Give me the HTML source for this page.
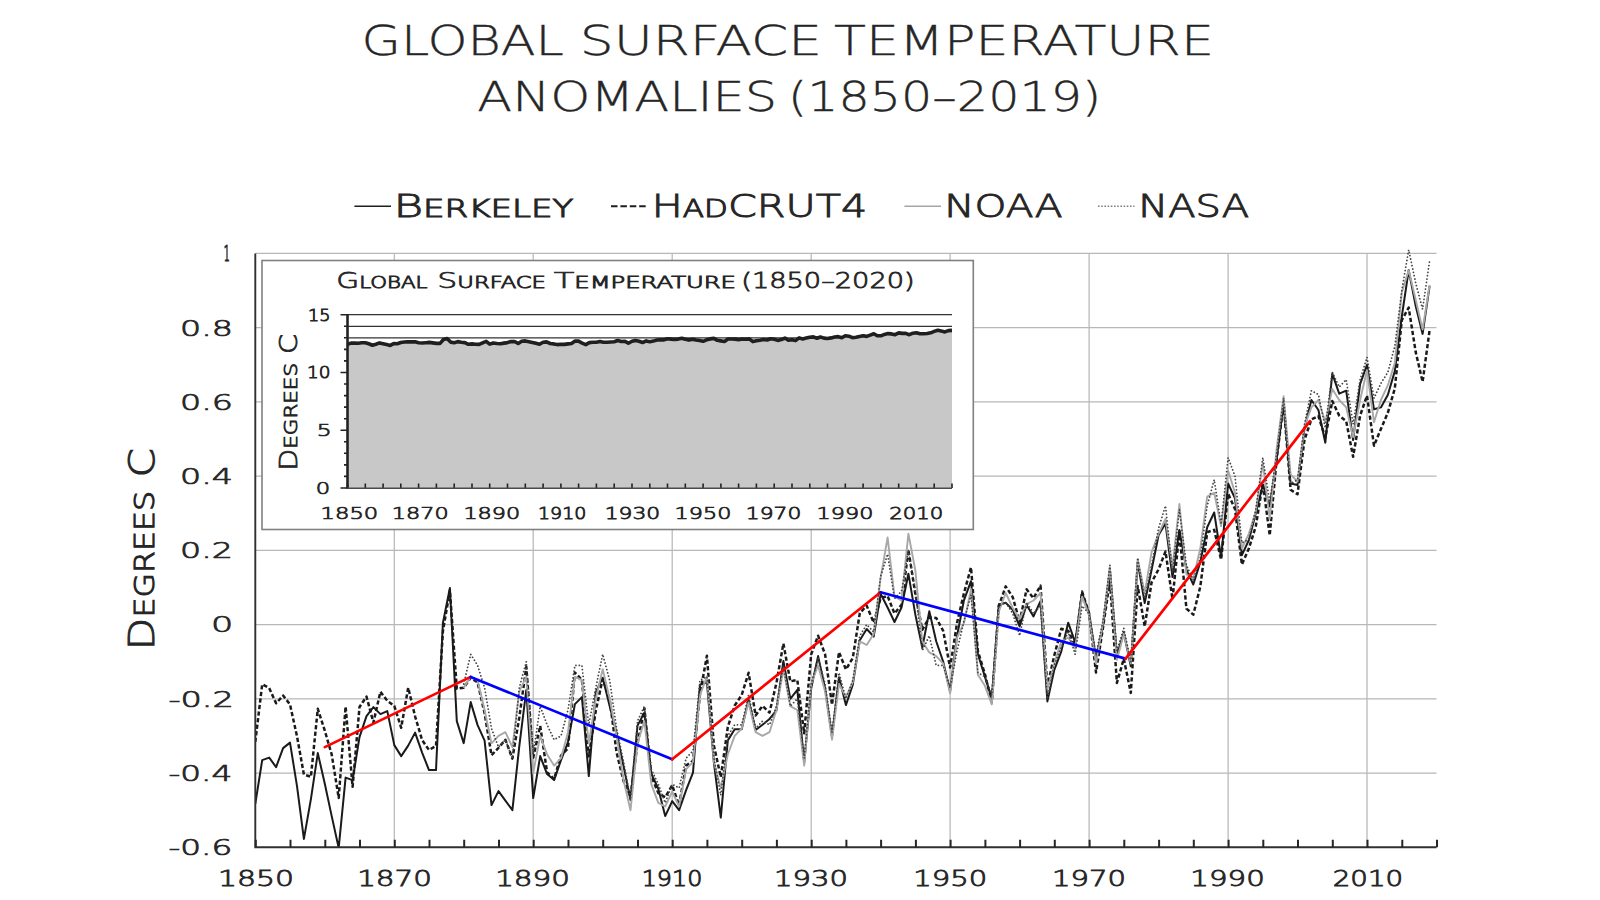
<!DOCTYPE html>
<html lang="en"><head><meta charset="utf-8"><title>Global Surface Temperature Anomalies (1850-2019)</title>
<style>html,body{margin:0;padding:0;background:#fff}body{width:1600px;height:900px;overflow:hidden}svg{display:block}text{font-family:"DejaVu Sans Light","DejaVu Sans","Liberation Sans",sans-serif;font-weight:200;fill:#262626;white-space:pre}</style></head><body>
<svg width="1600" height="900" viewBox="0 0 1600 900">
<rect width="1600" height="900" fill="#fff"/>
<path d="M255.3 253.4H1436.5M255.3 327.6H1436.5M255.3 401.9H1436.5M255.3 476.1H1436.5M255.3 550.4H1436.5M255.3 624.6H1436.5M255.3 698.8H1436.5M255.3 773.1H1436.5M394.3 253.4V847.3M533.2 253.4V847.3M672.2 253.4V847.3M811.2 253.4V847.3M950.1 253.4V847.3M1089.1 253.4V847.3M1228.1 253.4V847.3M1367.0 253.4V847.3" stroke="#b8b8b8" stroke-width="1.25" fill="none"/>
<clipPath id="cp"><rect x="255.3" y="249.4" width="1184.2" height="597.9"/></clipPath>
<g fill="none" stroke-linejoin="round" clip-path="url(#cp)">
<polyline points="255.3,803.8 262.2,760.1 269.2,757.6 276.1,767.1 283.1,748.1 290.0,742.6 297.0,786.1 303.9,838.9 310.9,799.1 317.8,753.1 324.8,783.8 331.7,816.1 338.7,847.9 345.6,777.6 352.6,780.1 359.5,737.1 366.5,716.1 373.4,707.1 380.4,714.1 387.3,711.1 394.3,745.1 401.2,756.1 408.2,745.6 415.1,732.6 422.1,752.6 429.0,770.1 436.0,770.1 442.9,623.0 449.9,588.0 456.8,721.1 463.7,743.1 470.7,702.1 477.6,725.1 484.6,740.7 491.5,805.1 498.5,791.1 505.4,800.7 512.4,810.1 519.3,746.1 526.3,690.0 533.2,798.1 540.2,756.1 547.1,774.1 554.1,780.1 561.0,760.1 568.0,742.1 574.9,704.1 581.9,697.1 588.8,776.1 595.8,692.1 602.7,677.7 609.7,706.2 616.6,733.0 623.6,766.4 630.5,800.1 637.5,725.6 644.4,712.6 651.3,773.8 658.3,788.7 665.2,816.1 672.2,801.1 679.1,810.1 686.1,790.1 693.0,772.6 700.0,684.7 706.9,682.5 713.9,762.7 720.8,817.6 727.8,740.4 734.7,729.3 741.7,729.3 748.6,699.6 755.6,730.0 762.5,724.8 769.5,718.9 776.4,710.7 783.4,661.0 790.3,698.8 797.3,689.9 804.2,762.7 811.2,688.4 818.1,656.1 825.1,688.4 832.0,736.7 839.0,677.3 845.9,705.1 852.8,684.7 859.8,640.2 866.7,629.0 873.7,636.5 880.6,593.8 887.6,607.5 894.5,622.0 901.5,607.5 908.4,573.7 915.4,614.9 922.3,647.6 929.3,611.2 936.2,641.3 943.2,661.7 950.1,691.4 957.1,635.7 964.0,600.1 971.0,581.2 977.9,654.3 984.9,676.6 991.8,698.8 998.8,604.9 1005.7,602.7 1012.7,609.7 1019.6,626.4 1026.6,604.9 1033.5,616.4 1040.5,601.2 1047.4,701.4 1054.3,669.9 1061.3,651.3 1068.2,622.7 1075.2,642.4 1082.1,593.0 1089.1,613.5 1096.0,658.7 1103.0,625.3 1109.9,569.7 1116.9,655.0 1123.8,632.8 1130.8,666.2 1137.7,562.2 1144.7,603.1 1151.6,569.7 1158.6,535.1 1165.5,523.6 1172.5,577.1 1179.4,529.9 1186.4,569.7 1193.3,584.5 1200.3,562.2 1207.2,527.3 1214.2,512.5 1221.1,557.4 1228.1,483.5 1235.0,498.4 1241.9,555.2 1248.9,540.0 1255.8,513.2 1262.8,485.0 1269.7,506.5 1276.7,458.3 1283.6,402.6 1290.6,483.5 1297.5,485.0 1304.5,428.6 1311.4,400.0 1318.4,410.0 1325.3,442.7 1332.3,373.7 1339.2,393.7 1346.2,390.7 1353.1,440.1 1360.1,384.1 1367.0,364.8 1374.0,409.3 1380.9,407.4 1387.9,394.8 1394.8,371.1 1401.8,316.5 1408.7,270.1 1415.7,306.1 1422.6,333.9 1429.6,286.1" stroke="#1a1a1a" stroke-width="2.0"/>
<polyline points="255.3,741.9 262.2,684.3 269.2,688.1 276.1,703.3 283.1,695.5 290.0,704.4 297.0,736.3 303.9,774.5 310.9,776.8 317.8,708.8 324.8,730.7 331.7,754.5 338.7,797.9 345.6,706.6 352.6,786.8 359.5,707.0 366.5,696.6 373.4,722.6 380.4,691.8 387.3,700.7 394.3,705.9 401.2,727.8 408.2,687.7 415.1,716.3 422.1,740.0 429.0,750.0 436.0,746.0 442.9,631.3 449.9,590.4 456.8,688.8 463.7,687.7 470.7,677.7 477.6,682.5 484.6,713.3 491.5,755.2 498.5,747.8 505.4,739.7 512.4,758.6 519.3,717.4 526.3,666.9 533.2,757.8 540.2,725.9 547.1,772.3 554.1,779.0 561.0,755.6 568.0,748.2 574.9,672.5 581.9,679.9 588.8,756.4 595.8,710.7 602.7,678.8 609.7,699.6 616.6,752.6 623.6,781.2 630.5,796.4 637.5,743.4 644.4,708.5 651.3,776.0 658.3,793.1 665.2,797.2 672.2,785.3 679.1,805.4 686.1,765.6 693.0,760.8 700.0,694.0 706.9,655.8 713.9,745.6 720.8,777.1 727.8,727.0 734.7,705.5 741.7,695.1 748.6,672.8 755.6,715.5 762.5,705.9 769.5,712.6 776.4,683.2 783.4,643.5 790.3,681.4 797.3,679.9 804.2,733.3 811.2,654.3 818.1,635.7 825.1,654.3 832.0,704.8 839.0,652.1 845.9,669.5 852.8,658.0 859.8,613.1 866.7,605.7 873.7,622.7 880.6,598.2 887.6,596.0 894.5,613.5 901.5,604.9 908.4,550.0 915.4,594.2 922.3,629.8 929.3,617.5 936.2,617.9 943.2,630.9 950.1,667.6 957.1,622.7 964.0,593.0 971.0,567.4 977.9,651.3 984.9,674.0 991.8,702.5 998.8,606.0 1005.7,586.4 1012.7,597.1 1019.6,621.6 1026.6,589.3 1033.5,598.2 1040.5,585.6 1047.4,686.2 1054.3,655.4 1061.3,628.7 1068.2,630.9 1075.2,645.4 1082.1,591.6 1089.1,613.5 1096.0,672.5 1103.0,627.6 1109.9,580.4 1116.9,682.9 1123.8,658.7 1130.8,692.9 1137.7,586.0 1144.7,626.4 1151.6,582.3 1158.6,569.3 1165.5,551.5 1172.5,599.3 1179.4,531.4 1186.4,608.6 1193.3,614.6 1200.3,586.7 1207.2,532.2 1214.2,529.9 1221.1,559.6 1228.1,493.6 1235.0,509.1 1241.9,564.5 1248.9,548.5 1255.8,526.2 1262.8,482.8 1269.7,535.5 1276.7,458.7 1283.6,403.4 1290.6,489.8 1297.5,494.3 1304.5,439.7 1311.4,419.3 1318.4,416.0 1325.3,437.5 1332.3,401.1 1339.2,415.6 1346.2,421.2 1353.1,456.8 1360.1,415.6 1367.0,395.6 1374.0,445.7 1380.9,429.0 1387.9,412.6 1394.8,388.5 1401.8,320.2 1408.7,307.6 1415.7,352.1 1422.6,381.8 1429.6,330.2" stroke="#1a1a1a" stroke-width="2.5" stroke-dasharray="4.2 2.4"/>
<polyline points="463.7,687.7 470.7,676.6 477.6,680.3 484.6,710.0 491.5,743.4 498.5,735.9 505.4,732.2 512.4,747.1 519.3,691.4 526.3,676.6 533.2,773.1 540.2,735.9 547.1,754.5 554.1,765.6 561.0,758.2 568.0,732.2 574.9,676.6 581.9,680.3 588.8,743.4 595.8,698.8 602.7,669.1 609.7,698.8 616.6,735.9 623.6,780.5 630.5,810.2 637.5,743.4 644.4,721.1 651.3,784.2 658.3,802.8 665.2,806.5 672.2,791.6 679.1,806.5 686.1,769.4 693.0,761.9 700.0,695.1 706.9,676.6 713.9,761.9 720.8,787.9 727.8,754.5 734.7,735.9 741.7,728.5 748.6,702.5 755.6,732.2 762.5,735.9 769.5,732.2 776.4,710.0 783.4,669.1 790.3,706.2 797.3,710.0 804.2,765.6 811.2,684.0 818.1,665.4 825.1,691.4 832.0,739.7 839.0,684.0 845.9,697.0 852.8,682.1 859.8,641.3 866.7,645.0 873.7,633.9 880.6,578.2 887.6,537.4 894.5,596.7 901.5,600.5 908.4,533.6 915.4,570.8 922.3,641.3 929.3,652.4 936.2,656.1 943.2,663.6 950.1,693.3 957.1,637.6 964.0,622.7 971.0,589.3 977.9,674.7 984.9,685.8 991.8,704.4 998.8,611.6 1005.7,593.0 1012.7,607.9 1019.6,619.0 1026.6,604.2 1033.5,600.5 1040.5,593.0 1047.4,689.5 1054.3,663.6 1061.3,641.3 1068.2,637.6 1075.2,648.7 1082.1,596.7 1089.1,615.3 1096.0,663.6 1103.0,622.7 1109.9,567.1 1116.9,659.9 1123.8,633.9 1130.8,663.6 1137.7,559.6 1144.7,593.0 1151.6,552.2 1158.6,533.6 1165.5,518.8 1172.5,567.1 1179.4,504.0 1186.4,574.5 1193.3,578.2 1200.3,548.5 1207.2,496.5 1214.2,492.8 1221.1,526.2 1228.1,470.5 1235.0,492.8 1241.9,548.5 1248.9,533.6 1255.8,511.4 1262.8,463.1 1269.7,518.8 1276.7,448.3 1283.6,396.3 1290.6,474.3 1297.5,481.7 1304.5,426.0 1311.4,407.4 1318.4,400.0 1325.3,422.3 1332.3,388.9 1339.2,400.0 1346.2,407.4 1353.1,437.1 1360.1,400.0 1367.0,370.3 1374.0,422.3 1380.9,400.0 1387.9,385.2 1394.8,362.9 1401.8,292.4 1408.7,270.1 1415.7,299.8 1422.6,329.5 1429.6,285.0" stroke="#a8a8a8" stroke-width="1.9"/>
<polyline points="463.7,684.0 470.7,654.3 477.6,665.4 484.6,687.7 491.5,728.5 498.5,747.1 505.4,739.7 512.4,758.2 519.3,687.7 526.3,661.7 533.2,754.5 540.2,706.2 547.1,724.8 554.1,739.7 561.0,735.9 568.0,710.0 574.9,665.4 581.9,665.4 588.8,724.8 595.8,687.7 602.7,654.3 609.7,680.3 616.6,728.5 623.6,761.9 630.5,799.0 637.5,721.1 644.4,706.2 651.3,769.4 658.3,784.2 665.2,802.8 672.2,784.2 679.1,787.9 686.1,758.2 693.0,750.8 700.0,680.3 706.9,676.6 713.9,758.2 720.8,795.3 727.8,735.9 734.7,724.8 741.7,724.8 748.6,695.1 755.6,728.5 762.5,721.1 769.5,724.8 776.4,706.2 783.4,665.4 790.3,706.2 797.3,698.8 804.2,758.2 811.2,684.0 818.1,658.0 825.1,684.0 832.0,732.2 839.0,672.8 845.9,698.8 852.8,680.3 859.8,635.7 866.7,624.6 873.7,632.0 880.6,576.3 887.6,554.1 894.5,598.6 901.5,591.2 908.4,550.4 915.4,591.2 922.3,650.6 929.3,635.7 936.2,665.4 943.2,665.4 950.1,687.7 957.1,650.6 964.0,620.9 971.0,594.9 977.9,672.8 984.9,676.6 991.8,695.1 998.8,606.0 1005.7,602.3 1012.7,613.5 1019.6,635.7 1026.6,602.3 1033.5,613.5 1040.5,606.0 1047.4,698.8 1054.3,665.4 1061.3,646.9 1068.2,632.0 1075.2,654.3 1082.1,606.0 1089.1,613.5 1096.0,654.3 1103.0,620.9 1109.9,565.2 1116.9,650.6 1123.8,628.3 1130.8,661.7 1137.7,557.8 1144.7,598.6 1151.6,565.2 1158.6,528.1 1165.5,505.8 1172.5,572.6 1179.4,509.5 1186.4,565.2 1193.3,580.0 1200.3,557.8 1207.2,505.8 1214.2,479.8 1221.1,524.4 1228.1,457.6 1235.0,476.1 1241.9,542.9 1248.9,539.2 1255.8,509.5 1262.8,457.6 1269.7,502.1 1276.7,453.8 1283.6,398.2 1290.6,483.5 1297.5,479.8 1304.5,424.1 1311.4,390.7 1318.4,394.5 1325.3,427.9 1332.3,372.2 1339.2,387.0 1346.2,379.6 1353.1,424.1 1360.1,379.6 1367.0,357.3 1374.0,398.2 1380.9,383.3 1387.9,372.2 1394.8,346.2 1401.8,290.5 1408.7,249.7 1415.7,283.1 1422.6,309.1 1429.6,260.8" stroke="#444" stroke-width="1.8" stroke-linecap="round" stroke-dasharray="0.01 3.4"/>
</g>
<line x1="324.8" y1="747.1" x2="470.7" y2="676.9" stroke="#f00" stroke-width="2.7" stroke-linecap="round"/>
<line x1="470.7" y1="676.9" x2="672.2" y2="759.3" stroke="#00f" stroke-width="2.7" stroke-linecap="round"/>
<line x1="672.2" y1="759.3" x2="880.6" y2="592.3" stroke="#f00" stroke-width="2.7" stroke-linecap="round"/>
<line x1="880.6" y1="592.3" x2="1125.6" y2="658.6" stroke="#00f" stroke-width="2.7" stroke-linecap="round"/>
<line x1="1125.6" y1="658.6" x2="1310.0" y2="421.2" stroke="#f00" stroke-width="2.7" stroke-linecap="round"/>
<path d="M255.3 253.4V847.3H1436.5" stroke="#303030" stroke-width="1.9" fill="none" stroke-linejoin="miter"/>
<path d="M255.8 847.3v-7.6M290.5 847.3v-7.6M325.3 847.3v-7.6M360.0 847.3v-7.6M394.8 847.3v-7.6M429.5 847.3v-7.6M464.2 847.3v-7.6M499.0 847.3v-7.6M533.7 847.3v-7.6M568.5 847.3v-7.6M603.2 847.3v-7.6M638.0 847.3v-7.6M672.7 847.3v-7.6M707.4 847.3v-7.6M742.2 847.3v-7.6M776.9 847.3v-7.6M811.7 847.3v-7.6M846.4 847.3v-7.6M881.1 847.3v-7.6M915.9 847.3v-7.6M950.6 847.3v-7.6M985.4 847.3v-7.6M1020.1 847.3v-7.6M1054.8 847.3v-7.6M1089.6 847.3v-7.6M1124.3 847.3v-7.6M1159.1 847.3v-7.6M1193.8 847.3v-7.6M1228.6 847.3v-7.6M1263.3 847.3v-7.6M1298.0 847.3v-7.6M1332.8 847.3v-7.6M1367.5 847.3v-7.6M1402.3 847.3v-7.6M1437.0 847.3v-7.6" stroke="#262626" stroke-width="2.0" fill="none"/>
<line x1="354.4" y1="206.3" x2="391" y2="206.3" stroke="#1f1f1f" stroke-width="1.6"/>
<line x1="611" y1="206.3" x2="647.5" y2="206.3" stroke="#1f1f1f" stroke-width="2.0" stroke-dasharray="6.5 2.9"/>
<line x1="904.4" y1="206.3" x2="941" y2="206.3" stroke="#a6a6a6" stroke-width="1.6"/>
<line x1="1098" y1="206.3" x2="1134.5" y2="206.3" stroke="#7f7f7f" stroke-width="1.4" stroke-dasharray="1.6 1.6"/>
<rect x="262" y="260.5" width="711.3" height="269" fill="#fff" stroke="#808080" stroke-width="1.6"/>
<line x1="347.5" y1="337.8" x2="952.0" y2="337.8" stroke="#333" stroke-width="1.3"/>
<line x1="347.5" y1="326.3" x2="952.0" y2="326.3" stroke="#333" stroke-width="1.3"/>
<line x1="347.5" y1="314.7" x2="952.0" y2="314.7" stroke="#333" stroke-width="1.3"/>
<polygon points="347.5,488.0 347.5,344.3 351.1,343.1 354.6,343.1 358.2,343.3 361.7,342.8 365.3,342.7 368.8,343.8 372.4,345.2 375.9,344.2 379.5,342.9 383.1,343.8 386.6,344.6 390.2,345.4 393.7,343.6 397.3,343.7 400.8,342.5 404.4,342.0 407.9,341.7 411.5,341.9 415.1,341.8 418.6,342.7 422.2,343.0 425.7,342.7 429.3,342.4 432.8,342.9 436.4,343.4 440.0,343.4 443.5,339.5 447.1,338.6 450.6,342.1 454.2,342.7 457.7,341.6 461.3,342.2 464.8,342.6 468.4,344.3 472.0,343.9 475.5,344.2 479.1,344.4 482.6,342.8 486.2,341.3 489.7,344.1 493.3,343.0 496.8,343.5 500.4,343.7 504.0,343.1 507.5,342.6 511.1,341.6 514.6,341.5 518.2,343.5 521.7,341.3 525.3,340.9 528.9,341.7 532.4,342.4 536.0,343.3 539.5,344.2 543.1,342.2 546.6,341.9 550.2,343.5 553.7,343.9 557.3,344.6 560.9,344.2 564.4,344.4 568.0,343.9 571.5,343.5 575.1,341.1 578.6,341.1 582.2,343.2 585.7,344.6 589.3,342.6 592.9,342.3 596.4,342.3 600.0,341.5 603.5,342.3 607.1,342.2 610.6,342.0 614.2,341.8 617.7,340.5 621.3,341.5 624.9,341.3 628.4,343.2 632.0,341.2 635.5,340.4 639.1,341.2 642.6,342.5 646.2,340.9 649.8,341.7 653.3,341.1 656.9,340.0 660.4,339.7 664.0,339.9 667.5,338.7 671.1,339.1 674.6,339.5 678.2,339.1 681.8,338.2 685.3,339.3 688.9,340.1 692.4,339.2 696.0,340.0 699.5,340.5 703.1,341.3 706.6,339.8 710.2,338.9 713.8,338.4 717.3,340.3 720.9,340.9 724.4,341.5 728.0,339.0 731.5,339.0 735.1,339.1 738.6,339.6 742.2,339.0 745.8,339.3 749.3,338.9 752.9,341.6 756.4,340.7 760.0,340.2 763.5,339.5 767.1,340.0 770.6,338.7 774.2,339.2 777.8,340.4 781.3,339.6 784.9,338.1 788.4,340.3 792.0,339.8 795.5,340.6 799.1,337.9 802.7,339.0 806.2,338.1 809.8,337.2 813.3,336.9 816.9,338.3 820.4,337.0 824.0,338.1 827.5,338.5 831.1,337.9 834.7,337.0 838.2,336.6 841.8,337.8 845.3,335.8 848.9,336.2 852.4,337.7 856.0,337.3 859.5,336.6 863.1,335.8 866.7,336.4 870.2,335.1 873.8,333.7 877.3,335.8 880.9,335.8 884.4,334.4 888.0,333.6 891.5,333.9 895.1,334.7 898.7,332.9 902.2,333.4 905.8,333.4 909.3,334.7 912.9,333.2 916.4,332.7 920.0,333.8 923.6,333.8 927.1,333.5 930.7,332.8 934.2,331.4 937.8,330.2 941.3,331.1 944.9,331.9 948.4,330.6 952.0,330.4 952.0,488.0" fill="#c8c8c8"/>
<polyline points="347.5,344.3 351.1,343.1 354.6,343.1 358.2,343.3 361.7,342.8 365.3,342.7 368.8,343.8 372.4,345.2 375.9,344.2 379.5,342.9 383.1,343.8 386.6,344.6 390.2,345.4 393.7,343.6 397.3,343.7 400.8,342.5 404.4,342.0 407.9,341.7 411.5,341.9 415.1,341.8 418.6,342.7 422.2,343.0 425.7,342.7 429.3,342.4 432.8,342.9 436.4,343.4 440.0,343.4 443.5,339.5 447.1,338.6 450.6,342.1 454.2,342.7 457.7,341.6 461.3,342.2 464.8,342.6 468.4,344.3 472.0,343.9 475.5,344.2 479.1,344.4 482.6,342.8 486.2,341.3 489.7,344.1 493.3,343.0 496.8,343.5 500.4,343.7 504.0,343.1 507.5,342.6 511.1,341.6 514.6,341.5 518.2,343.5 521.7,341.3 525.3,340.9 528.9,341.7 532.4,342.4 536.0,343.3 539.5,344.2 543.1,342.2 546.6,341.9 550.2,343.5 553.7,343.9 557.3,344.6 560.9,344.2 564.4,344.4 568.0,343.9 571.5,343.5 575.1,341.1 578.6,341.1 582.2,343.2 585.7,344.6 589.3,342.6 592.9,342.3 596.4,342.3 600.0,341.5 603.5,342.3 607.1,342.2 610.6,342.0 614.2,341.8 617.7,340.5 621.3,341.5 624.9,341.3 628.4,343.2 632.0,341.2 635.5,340.4 639.1,341.2 642.6,342.5 646.2,340.9 649.8,341.7 653.3,341.1 656.9,340.0 660.4,339.7 664.0,339.9 667.5,338.7 671.1,339.1 674.6,339.5 678.2,339.1 681.8,338.2 685.3,339.3 688.9,340.1 692.4,339.2 696.0,340.0 699.5,340.5 703.1,341.3 706.6,339.8 710.2,338.9 713.8,338.4 717.3,340.3 720.9,340.9 724.4,341.5 728.0,339.0 731.5,339.0 735.1,339.1 738.6,339.6 742.2,339.0 745.8,339.3 749.3,338.9 752.9,341.6 756.4,340.7 760.0,340.2 763.5,339.5 767.1,340.0 770.6,338.7 774.2,339.2 777.8,340.4 781.3,339.6 784.9,338.1 788.4,340.3 792.0,339.8 795.5,340.6 799.1,337.9 802.7,339.0 806.2,338.1 809.8,337.2 813.3,336.9 816.9,338.3 820.4,337.0 824.0,338.1 827.5,338.5 831.1,337.9 834.7,337.0 838.2,336.6 841.8,337.8 845.3,335.8 848.9,336.2 852.4,337.7 856.0,337.3 859.5,336.6 863.1,335.8 866.7,336.4 870.2,335.1 873.8,333.7 877.3,335.8 880.9,335.8 884.4,334.4 888.0,333.6 891.5,333.9 895.1,334.7 898.7,332.9 902.2,333.4 905.8,333.4 909.3,334.7 912.9,333.2 916.4,332.7 920.0,333.8 923.6,333.8 927.1,333.5 930.7,332.8 934.2,331.4 937.8,330.2 941.3,331.1 944.9,331.9 948.4,330.6 952.0,330.4" fill="none" stroke="#1f1f1f" stroke-width="3.6" stroke-linejoin="round"/>
<path d="M347.5 488.0h-7.0M347.5 476.4h-3.5M347.5 464.9h-3.5M347.5 453.3h-3.5M347.5 441.8h-3.5M347.5 430.2h-7.0M347.5 418.7h-3.5M347.5 407.1h-3.5M347.5 395.6h-3.5M347.5 384.0h-3.5M347.5 372.5h-7.0M347.5 360.9h-3.5M347.5 349.4h-3.5M347.5 337.8h-3.5M347.5 326.3h-3.5M347.5 314.7h-7.0M347.5 488.0v-4.5M365.3 488.0v-4.5M383.1 488.0v-4.5M400.8 488.0v-4.5M418.6 488.0v-4.5M436.4 488.0v-4.5M454.2 488.0v-4.5M472.0 488.0v-4.5M489.7 488.0v-4.5M507.5 488.0v-4.5M525.3 488.0v-4.5M543.1 488.0v-4.5M560.9 488.0v-4.5M578.6 488.0v-4.5M596.4 488.0v-4.5M614.2 488.0v-4.5M632.0 488.0v-4.5M649.8 488.0v-4.5M667.5 488.0v-4.5M685.3 488.0v-4.5M703.1 488.0v-4.5M720.9 488.0v-4.5M738.6 488.0v-4.5M756.4 488.0v-4.5M774.2 488.0v-4.5M792.0 488.0v-4.5M809.8 488.0v-4.5M827.5 488.0v-4.5M845.3 488.0v-4.5M863.1 488.0v-4.5M880.9 488.0v-4.5M898.7 488.0v-4.5M916.4 488.0v-4.5M934.2 488.0v-4.5M952.0 488.0v-4.5" stroke="#222" stroke-width="1.6" fill="none"/>
<path d="M347.5 314.1V488.8" stroke="#222" stroke-width="2.6" fill="none"/>
<path d="M347.5 488.3H952.0" stroke="#4a4a4a" stroke-width="1.4" fill="none"/>
<text id="t1a" transform="translate(361.50,54.60) scale(1.2660,1)" font-size="40.19" stroke="#262626" stroke-width="0.4" vector-effect="non-scaling-stroke">GLOBAL</text>
<text id="t1b" transform="translate(579.82,54.60) scale(1.3273,1)" font-size="40.19" stroke="#262626" stroke-width="0.4" vector-effect="non-scaling-stroke">SURFACE</text>
<text id="t1c" transform="translate(834.00,54.60) scale(1.3003,1)" font-size="40.19" stroke="#262626" stroke-width="0.4" vector-effect="non-scaling-stroke">TEMPERATURE</text>
<text id="t2a" transform="translate(477.33,111.30) scale(1.2678,1)" font-size="40.19" stroke="#262626" stroke-width="0.4" vector-effect="non-scaling-stroke">ANOMALIES</text>
<text id="t2b" transform="translate(788.11,111.30) scale(1.2230,1)" font-size="40.19" stroke="#262626" stroke-width="0.4" vector-effect="non-scaling-stroke">(1850–2019)</text>
<text id="l1" transform="translate(393.41,217.10) scale(1.3952,1)" font-size="32.51" stroke="#262626" stroke-width="1.1" vector-effect="non-scaling-stroke">B<tspan style="text-transform:uppercase" font-size="75%">erkeley</tspan></text>
<text id="l2" transform="translate(651.79,217.10) scale(1.2715,1)" font-size="32.51" stroke="#262626" stroke-width="1.1" vector-effect="non-scaling-stroke">H<tspan style="text-transform:uppercase" font-size="75%">ad</tspan>CRUT4</text>
<text id="l3" transform="translate(944.25,217.10) scale(1.2484,1)" font-size="32.51" stroke="#262626" stroke-width="1.1" vector-effect="non-scaling-stroke">NOAA</text>
<text id="l4" transform="translate(1138.31,217.10) scale(1.2299,1)" font-size="32.51" stroke="#262626" stroke-width="1.1" vector-effect="non-scaling-stroke">NASA</text>
<text id="yt" transform="translate(154.10,650.15) rotate(-90) scale(1.2179,1)" font-size="34.71" stroke="#262626" stroke-width="1.1" vector-effect="non-scaling-stroke">D<tspan style="text-transform:uppercase" font-size="75%">egrees</tspan> C</text>
<text id="y0" transform="translate(223.68,261.30) scale(0.4600,1)" font-size="20.85" stroke="#262626" stroke-width="0.95" vector-effect="non-scaling-stroke">1</text>
<text id="y1" transform="translate(180.10,335.54) scale(1.5968,1)" font-size="20.85" stroke="#262626" stroke-width="0.95" vector-effect="non-scaling-stroke">0.8</text>
<text id="y2" transform="translate(180.10,409.77) scale(1.5968,1)" font-size="20.85" stroke="#262626" stroke-width="0.95" vector-effect="non-scaling-stroke">0.6</text>
<text id="y3" transform="translate(180.10,484.01) scale(1.5968,1)" font-size="20.85" stroke="#262626" stroke-width="0.95" vector-effect="non-scaling-stroke">0.4</text>
<text id="y4" transform="translate(180.10,558.25) scale(1.5968,1)" font-size="20.85" stroke="#262626" stroke-width="0.95" vector-effect="non-scaling-stroke">0.2</text>
<text id="y5" transform="translate(211.02,632.49) scale(1.6818,1)" font-size="20.85" stroke="#262626" stroke-width="0.95" vector-effect="non-scaling-stroke">0</text>
<text id="y6" transform="translate(168.40,706.72) scale(1.6103,1)" font-size="20.85" stroke="#262626" stroke-width="0.95" vector-effect="non-scaling-stroke">-0.2</text>
<text id="y7" transform="translate(168.40,780.96) scale(1.5700,1)" font-size="20.85" stroke="#262626" stroke-width="0.95" vector-effect="non-scaling-stroke">-0.4</text>
<text id="y8" transform="translate(168.40,855.20) scale(1.5700,1)" font-size="20.85" stroke="#262626" stroke-width="0.95" vector-effect="non-scaling-stroke">-0.6</text>
<text id="x0" transform="translate(217.89,886.00) scale(1.4531,1)" font-size="20.58" stroke="#262626" stroke-width="0.95" vector-effect="non-scaling-stroke">1850</text>
<text id="x1" transform="translate(357.14,886.00) scale(1.4286,1)" font-size="20.58" stroke="#262626" stroke-width="0.95" vector-effect="non-scaling-stroke">1870</text>
<text id="x2" transform="translate(495.14,886.00) scale(1.4286,1)" font-size="20.58" stroke="#262626" stroke-width="0.95" vector-effect="non-scaling-stroke">1890</text>
<text id="x3" transform="translate(641.68,886.00) scale(1.1592,1)" font-size="20.58" stroke="#262626" stroke-width="0.95" vector-effect="non-scaling-stroke">1910</text>
<text id="x4" transform="translate(773.98,886.00) scale(1.4122,1)" font-size="20.58" stroke="#262626" stroke-width="0.95" vector-effect="non-scaling-stroke">1930</text>
<text id="x5" transform="translate(913.18,886.00) scale(1.4122,1)" font-size="20.58" stroke="#262626" stroke-width="0.95" vector-effect="non-scaling-stroke">1950</text>
<text id="x6" transform="translate(1051.98,886.00) scale(1.4122,1)" font-size="20.58" stroke="#262626" stroke-width="0.95" vector-effect="non-scaling-stroke">1970</text>
<text id="x7" transform="translate(1190.36,886.00) scale(1.4204,1)" font-size="20.58" stroke="#262626" stroke-width="0.95" vector-effect="non-scaling-stroke">1990</text>
<text id="x8" transform="translate(1332.65,886.00) scale(1.3460,1)" font-size="20.58" stroke="#262626" stroke-width="0.95" vector-effect="non-scaling-stroke">2010</text>
<text id="ita" transform="translate(336.15,287.50) scale(1.3507,1)" font-size="21.95" stroke="#262626" stroke-width="0.9" vector-effect="non-scaling-stroke">G<tspan style="text-transform:uppercase" font-size="72%">lobal</tspan></text>
<text id="itb" transform="translate(437.31,287.50) scale(1.4358,1)" font-size="21.95" stroke="#262626" stroke-width="0.9" vector-effect="non-scaling-stroke">S<tspan style="text-transform:uppercase" font-size="72%">urface</tspan></text>
<text id="itc" transform="translate(553.75,287.50) scale(1.5360,1)" font-size="21.95" stroke="#262626" stroke-width="0.9" vector-effect="non-scaling-stroke">T<tspan style="text-transform:uppercase" font-size="72%">emperature</tspan></text>
<text id="itd" transform="translate(741.27,287.50) scale(1.2408,1)" font-size="21.95" stroke="#262626" stroke-width="0.9" vector-effect="non-scaling-stroke">(1850–2020)</text>
<text id="iy" transform="translate(296.70,470.68) rotate(-90) scale(1.1902,1)" font-size="24.01" stroke="#262626" stroke-width="0.9" vector-effect="non-scaling-stroke">D<tspan style="text-transform:uppercase" font-size="75%">egrees</tspan> C</text>
<text id="iv0" transform="translate(308.02,320.60) scale(1.0789,1)" font-size="16.32" stroke="#262626" stroke-width="0.9" vector-effect="non-scaling-stroke">15</text>
<text id="iv1" transform="translate(306.97,378.37) scale(1.1316,1)" font-size="16.32" stroke="#262626" stroke-width="0.9" vector-effect="non-scaling-stroke">10</text>
<text id="iv2" transform="translate(316.66,436.13) scale(1.4375,1)" font-size="16.32" stroke="#262626" stroke-width="0.9" vector-effect="non-scaling-stroke">5</text>
<text id="iv3" transform="translate(315.71,493.90) scale(1.3889,1)" font-size="16.32" stroke="#262626" stroke-width="0.9" vector-effect="non-scaling-stroke">0</text>
<text id="ix0" transform="translate(320.59,518.75) scale(1.4051,1)" font-size="16.12" stroke="#262626" stroke-width="0.9" vector-effect="non-scaling-stroke">1850</text>
<text id="ix1" transform="translate(391.82,518.75) scale(1.3846,1)" font-size="16.12" stroke="#262626" stroke-width="0.9" vector-effect="non-scaling-stroke">1870</text>
<text id="ix2" transform="translate(463.42,518.75) scale(1.3846,1)" font-size="16.12" stroke="#262626" stroke-width="0.9" vector-effect="non-scaling-stroke">1890</text>
<text id="ix3" transform="translate(538.02,518.75) scale(1.1795,1)" font-size="16.12" stroke="#262626" stroke-width="0.9" vector-effect="non-scaling-stroke">1910</text>
<text id="ix4" transform="translate(604.65,518.75) scale(1.3538,1)" font-size="16.12" stroke="#262626" stroke-width="0.9" vector-effect="non-scaling-stroke">1930</text>
<text id="ix5" transform="translate(674.62,518.75) scale(1.3846,1)" font-size="16.12" stroke="#262626" stroke-width="0.9" vector-effect="non-scaling-stroke">1950</text>
<text id="ix6" transform="translate(745.85,518.75) scale(1.3538,1)" font-size="16.12" stroke="#262626" stroke-width="0.9" vector-effect="non-scaling-stroke">1970</text>
<text id="ix7" transform="translate(816.62,518.75) scale(1.3846,1)" font-size="16.12" stroke="#262626" stroke-width="0.9" vector-effect="non-scaling-stroke">1990</text>
<text id="ix8" transform="translate(889.20,518.75) scale(1.3200,1)" font-size="16.12" stroke="#262626" stroke-width="0.9" vector-effect="non-scaling-stroke">2010</text>
</svg></body></html>
